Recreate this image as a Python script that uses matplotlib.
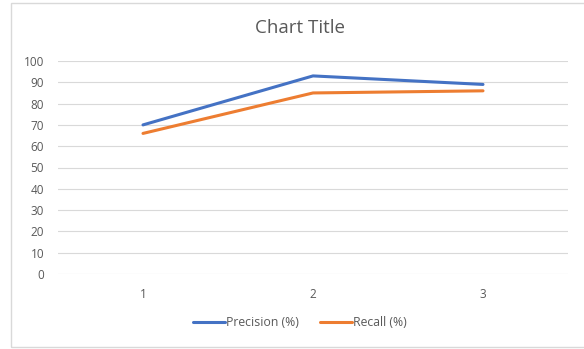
import matplotlib.pyplot as plt
from matplotlib.patches import Rectangle

plt.rcParams['font.family'] = ['Open Sans', 'DejaVu Sans']

categories = ['1', '2', '3']
precision = [70, 93, 89]
recall = [66, 85, 86]
yticks = [0, 10, 20, 30, 40, 50, 60, 70, 80, 90, 100]

W, H = 584, 349
fig = plt.figure(figsize=(W / 100, H / 100), dpi=100)

# chart border (right edge is cut off in the reference)
fig.patches.append(Rectangle((11 / W, 2 / H), 1.0, (346 - 2) / H, transform=fig.transFigure,
                             fill=False, edgecolor='#d9d9d9', linewidth=1.0))

ax = fig.add_axes([58 / W, (H - 274) / H, (568 - 58) / W, (274 - 61) / H])
x = list(range(len(categories)))
ax.plot(x, precision, color='#4472c4', linewidth=2.2, label='Precision (%)', solid_capstyle='round')
ax.plot(x, recall, color='#ed7d31', linewidth=2.2, label='Recall (%)', solid_capstyle='round')

ax.set_xlim(-0.5, 2.5)
ax.set_ylim(0, 100)
ax.set_xticks(x)
ax.set_xticklabels(categories)
ax.set_yticks(yticks)
ax.grid(axis='y', color='#d9d9d9', linewidth=0.8)
ax.set_axisbelow(True)
for s in ax.spines.values():
    s.set_visible(False)
ax.tick_params(length=0, labelsize=8.5, labelcolor='#595959')
ax.tick_params(axis='y', pad=10)
ax.tick_params(axis='x', pad=10)

fig.text(300 / W, 1 - 28 / H, 'Chart Title', ha='center', va='center', fontsize=13.5, color='#595959')

leg = fig.legend(loc='center', bbox_to_anchor=(300 / W, 1 - 323 / H), ncol=2, frameon=False,
                 fontsize=8.8, handlelength=2.6, handletextpad=0.1, columnspacing=1.7)
for t in leg.get_texts():
    t.set_color('#595959')

fig.savefig('out.png', dpi=100)
